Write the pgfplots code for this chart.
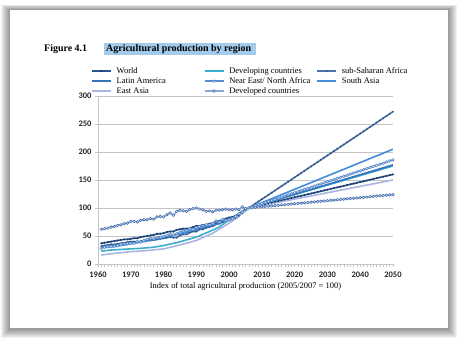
\documentclass[border=0pt]{standalone}
\usepackage{pgfplots}
\pgfplotsset{compat=1.18}
\usepackage{pgfplotstable}
\usepackage{fontspec}
\setmainfont{Liberation Serif}
\newfontfamily\calfont{Carlito}
\definecolor{cWorld}{HTML}{2A5590}
\definecolor{cWorldM}{HTML}{1B3A66}
\definecolor{cDev}{HTML}{3AAFCB}
\definecolor{cSSA}{HTML}{4C72A6}
\definecolor{cSSAM}{HTML}{2E4F80}
\definecolor{cLA}{HTML}{3573BE}
\definecolor{cNENA}{HTML}{5A8BCC}
\definecolor{cSA}{HTML}{428CDB}
\definecolor{cEA}{HTML}{A8B7E2}
\definecolor{cDvd}{HTML}{88A7D8}
\definecolor{cDvdM}{HTML}{4870B0}
\definecolor{cHi}{HTML}{A3CBEC}
\definecolor{cGrid}{HTML}{C4C4C4}

\pgfplotstableread{
year world ssa nena dev
1961 37 32 28 62
1962 38 33 30 63
1963 39 34 31 64
1964 40 35 31 66
1965 41 35 32 67
1966 42 36 33 69
1967 43 37 35 70
1968 44 38 36 72
1969 44 39 36 73
1970 45 40 37 76
1971 46 40 37 76
1972 46 40 40 75
1973 48 40 39 78
1974 49 42 42 79
1975 50 42 44 79
1976 51 43 46 81
1977 52 43 45 80
1978 54 44 47 84
1979 54 45 48 85
1980 55 46 49 84
1981 57 47 51 88
1982 58 48 53 91
1983 58 47 52 87
1984 61 47 54 94
1985 62 51 57 96
1986 63 53 59 95
1987 63 53 60 94
1988 64 56 63 97
1989 66 58 62 99
1990 68 58 65 100
1991 68 62 67 98
1992 70 62 68 97
1993 70 65 70 94
1994 72 66 70 95
1995 73 68 72 93
1996 76 73 77 96
1997 77 72 75 96
1998 79 75 80 97
1999 81 77 78 98
2000 83 78 79 97
2001 84 80 81 97
2002 86 82 85 98
2003 90 86 90 97
2004 94 91 93 102
2005 98 96 97 99
2006 100 100 100 100
2007 101.4 103.9 102.0 100.5
2008 102.7 107.8 103.9 101.1
2009 104.1 111.7 105.9 101.6
2010 105.5 115.6 107.8 102.2
2011 106.8 119.5 109.8 102.7
2012 108.2 123.5 111.7 103.3
2013 109.5 127.4 113.7 103.8
2014 110.9 131.3 115.6 104.4
2015 112.3 135.2 117.6 104.9
2016 113.6 139.1 119.5 105.5
2017 115.0 143.0 121.5 106.0
2018 116.4 146.9 123.5 106.5
2019 117.7 150.8 125.4 107.1
2020 119.1 154.7 127.4 107.6
2021 120.5 158.6 129.3 108.2
2022 121.8 162.5 131.3 108.7
2023 123.2 166.5 133.2 109.3
2024 124.5 170.4 135.2 109.8
2025 125.9 174.3 137.1 110.4
2026 127.3 178.2 139.1 110.9
2027 128.6 182.1 141.0 111.5
2028 130.0 186.0 143.0 112.0
2029 131.4 189.9 144.9 112.5
2030 132.7 193.8 146.9 113.1
2031 134.1 197.7 148.9 113.6
2032 135.5 201.6 150.8 114.2
2033 136.8 205.5 152.8 114.7
2034 138.2 209.5 154.7 115.3
2035 139.5 213.4 156.7 115.8
2036 140.9 217.3 158.6 116.4
2037 142.3 221.2 160.6 116.9
2038 143.6 225.1 162.5 117.5
2039 145.0 229.0 164.5 118.0
2040 146.4 232.9 166.4 118.5
2041 147.7 236.8 168.4 119.1
2042 149.1 240.7 170.3 119.6
2043 150.5 244.6 172.3 120.2
2044 151.8 248.5 174.3 120.7
2045 153.2 252.5 176.2 121.3
2046 154.5 256.4 178.2 121.8
2047 155.9 260.3 180.1 122.4
2048 157.3 264.2 182.1 122.9
2049 158.6 268.1 184.0 123.5
2050 160.0 272.0 186.0 124.0
}\marked

\pgfplotstableread{
year devg
1961 23
1964 25
1967 26
1970 27
1973 28
1977 30
1980 33
1984 38
1987 43
1990 48
1994 58
1997 66
2000 79
2003 88
2006 100
2050 175
}\devg

\pgfplotstableread{
year la
1961 30
1965 33
1970 37
1975 43
1980 49
1985 54
1990 60
1995 68
2000 80
2003 89
2006 100
2050 177
}\la

\pgfplotstableread{
year sa
1961 29
1965 31
1970 36
1975 41
1980 46
1985 54
1990 62
1995 70
2000 80
2003 86
2006 100
2050 205
}\sa

\pgfplotstableread{
year ea
1961 16
1965 19
1970 22
1975 24
1980 27
1985 34
1990 42
1995 55
2000 73
2003 85
2006 100
2050 150
}\ea

\begin{document}
\begin{tikzpicture}
% canvas
\fill[white] (0bp,0bp) rectangle (458bp,338bp);
\foreach \i in {1,...,9}{
  \fill[black,opacity=0.05] ({(10-\i)*1bp},{(9-\i)*1bp}) rectangle ({(448+\i)*1bp},{(328+\i*0.6)*1bp});
}
\fill[white] (10bp,10bp) rectangle (448bp,328bp);
% title
\fill[cHi] (104bp,283bp) rectangle (256bp,295bp);
\node[anchor=base west,inner sep=0pt,font=\fontsize{10}{12}\selectfont\bfseries] at (44bp,286bp) {Figure 4.1};
\node[anchor=base west,inner sep=0pt,font=\fontsize{10}{12}\selectfont\bfseries] at (106bp,286bp) {Agricultural production by region};
\begin{axis}[
  at={(98bp,74bp)}, anchor=south west,
  scale only axis, width=295bp, height=168bp,
  xmin=1960, xmax=2050, ymin=0, ymax=300,
  axis x line=bottom, axis y line=left,
  axis line style={cGrid, line width=0.8pt, -},
  xtick={1960,1970,...,2050}, minor x tick num=9,
  ytick={0,50,...,300},
  ymajorgrids, grid style={cGrid, line width=0.8pt},
  major tick length=3bp, minor tick length=3bp,
  tick align=outside,
  xtick style={cGrid, line width=0.5pt}, ytick style={cGrid, line width=0.5pt},
  minor tick style={cGrid, line width=0.5pt},
  /pgf/number format/assume math mode=true,
  /pgf/number format/1000 sep={},
  ticklabel style={font=\calfont\bfseries\fontsize{8.5}{10}\selectfont, text=black!85},
  xticklabel style={yshift=-1bp},
  xlabel={Index of total agricultural production (2005/2007 = 100)},
  xlabel style={font=\fontsize{8.5}{10}\selectfont, yshift=2bp},
  legend columns=3,
  legend cell align=left,
  legend style={draw=none, fill=none, at={(rel axis cs:-0.024,1.172)}, anchor=north west,
    font=\fontsize{8.5}{9.5}\selectfont, row sep=2.2bp, inner sep=0pt,
    nodes={inner sep=0pt, text height=6bp, text depth=1.8bp},
    /tikz/every odd column/.append style={column sep=5bp}},
  legend image code/.code={\draw[mark repeat=2,mark phase=2] plot coordinates {(0bp,0bp) (9.5bp,0bp) (19bp,0bp)};},
]
\addplot[cWorld, line width=1.6pt, mark=*, mark size=0.8pt, mark options={fill=cWorldM, draw=cWorldM, line width=0.3pt}] table[x=year,y=world] {\marked};
\addlegendentry{\makebox[87bp][l]{World}}
\addplot[cDev, line width=1.6pt, no marks] table[x=year,y=devg] {\devg};
\addlegendentry{\makebox[87bp][l]{Developing countries}}
\addplot[cSSA, line width=1.6pt, mark=*, mark size=0.7pt, mark options={fill=cSSAM, draw=cSSAM, line width=0.3pt}] table[x=year,y=ssa] {\marked};
\addlegendentry{sub-Saharan Africa}
\addplot[cLA, line width=1.6pt, no marks] table[x=year,y=la] {\la};
\addlegendentry{\makebox[87bp][l]{Latin America}}
\addplot[cNENA, line width=1.6pt, mark=*, mark size=1.3pt, mark options={fill=white, draw=cNENA, line width=0.6pt}] table[x=year,y=nena] {\marked};
\addlegendentry{\makebox[87bp][l]{Near East/ North Africa}}
\addplot[cSA, line width=1.6pt, no marks] table[x=year,y=sa] {\sa};
\addlegendentry{South Asia}
\addplot[cEA, line width=1.6pt, no marks] table[x=year,y=ea] {\ea};
\addlegendentry{\makebox[87bp][l]{East Asia}}
\addplot[cDvd, line width=1.6pt, mark=*, mark size=1.3pt, mark options={fill=white, draw=cDvdM, line width=0.6pt}] table[x=year,y=dev] {\marked};
\addlegendentry{\makebox[87bp][l]{Developed countries}}
\end{axis}
\end{tikzpicture}
\end{document}
